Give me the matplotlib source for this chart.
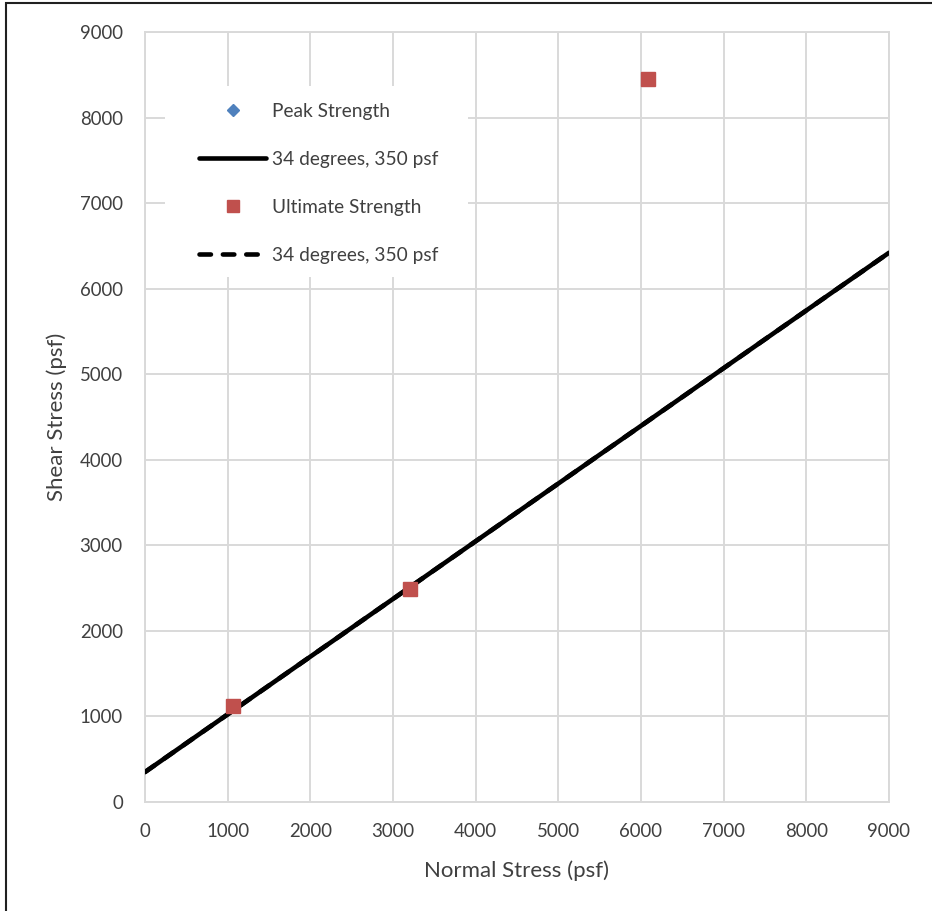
import matplotlib
matplotlib.use('Agg')
import matplotlib.pyplot as plt
import matplotlib.patches as mpatches

plt.rcParams['font.family'] = ['Lato', 'DejaVu Sans']

# Data
peak_x = []
peak_y = []
ult_x = [1065, 3205, 6085]
ult_y = [1120, 2490, 8455]
fit_x = [0, 9000]
fit_y = [350, 6420]          # 34 degrees, 350 psf
ticks = list(range(0, 9001, 1000))

txt = '#404040'
grid = '#D9D9D9'
dash = (0, (2.5, 2.6))

fig = plt.figure(figsize=(9.32, 9.11), dpi=100)
ax = fig.add_axes([145/932, 1 - 802/911, 744/932, 770/911])

ax.plot(fit_x, fit_y, color='black', lw=3.3, ls=dash, dash_capstyle='round', zorder=3)
l1, = ax.plot(fit_x, fit_y, color='black', lw=3.3, solid_capstyle='round', zorder=4)
l2, = ax.plot([], [], color='black', lw=3.3, ls=dash, dash_capstyle='round')
pk, = ax.plot(peak_x, peak_y, ls='none', marker='D', ms=6.5, color='#4F81BD')
ul, = ax.plot(ult_x, ult_y, ls='none', marker='s', ms=10, color='#C0504D', zorder=5)

ax.set_xlim(0, 9000)
ax.set_ylim(0, 9000)
ax.set_xticks(ticks)
ax.set_yticks(ticks)
ax.grid(True, color=grid, lw=1.4, zorder=0)
ax.set_axisbelow(True)
for s in ax.spines.values():
    s.set_color(grid)
    s.set_linewidth(1.4)
ax.tick_params(length=0, labelsize=13.4, colors=txt)
ax.tick_params(axis='x', pad=15)
ax.tick_params(axis='y', pad=16)

ax.set_xlabel('Normal Stress (psf)', fontsize=16, color=txt, labelpad=15)
ax.set_ylabel('Shear Stress (psf)', fontsize=16, color=txt, labelpad=9)

# white legend box (Excel style, wider than its entries)
ax.add_patch(mpatches.Rectangle((0.027, 0.682), 0.407, 0.248, transform=ax.transAxes,
                                facecolor='white', edgecolor='none', zorder=2))

leg = ax.legend([pk, l1, ul, l2],
                ['Peak Strength', '34 degrees, 350 psf', 'Ultimate Strength', '34 degrees, 350 psf'],
                loc='upper left', bbox_to_anchor=(0.0726, 0.908), fontsize=13.8,
                frameon=False, labelspacing=1.62, handlelength=3.5, handletextpad=0.3,
                borderpad=0, borderaxespad=0, markerscale=0.9)
for t in leg.get_texts():
    t.set_color(txt)

# outer frame
fig.add_artist(mpatches.Rectangle((6/932, -0.1), 1.2, 1.1 - 3/911, transform=fig.transFigure,
                                  fill=False, edgecolor='#202020', lw=1.5))

plt.savefig('out.png', dpi=100)
